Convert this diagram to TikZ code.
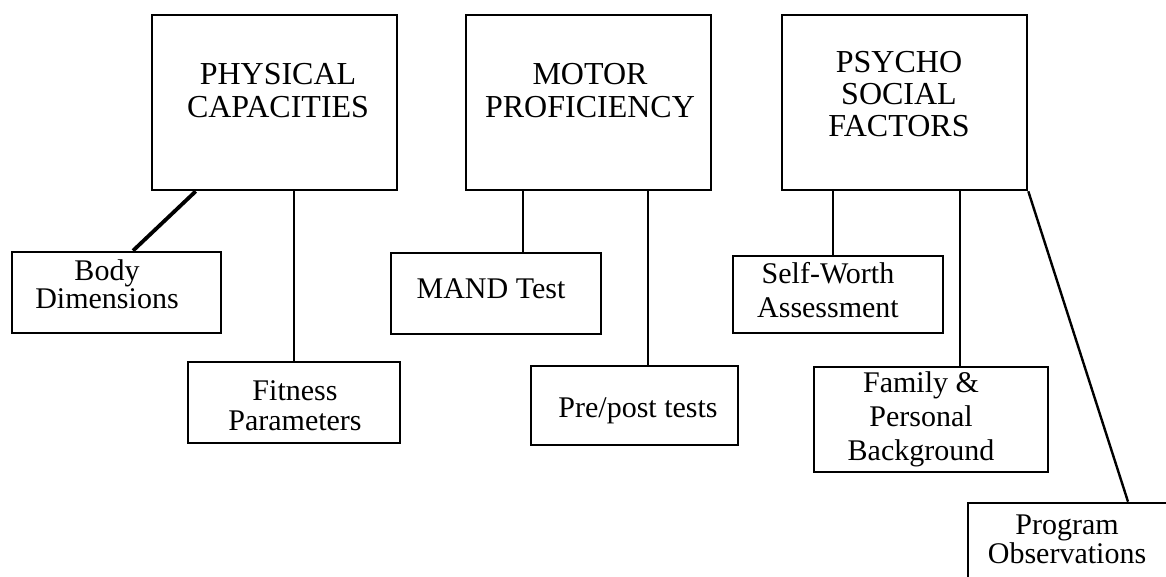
\documentclass[tikz,border=0pt]{standalone}
\usepackage{fontspec}
\setmainfont{Liberation Serif}
\begin{document}
\begin{tikzpicture}[
	x=1pt, y=-1pt,
	bigbox/.style={ rectangle, draw, line width=2.6pt, inner sep=0pt, minimum width=245pt, minimum height=175pt },
	smallbox/.style={ rectangle, draw, line width=2.6pt, inner sep=0pt },
	bigtext/.style={ anchor=base, align=center, inner sep=0pt, font=\fontsize{32}{33}\selectfont },
	smalltext/.style={ anchor=base, align=center, inner sep=0pt, font=\fontsize{30}{30}\selectfont },
	link/.style={ line width=2.4pt }
]
\useasboundingbox (0,0) rectangle (1166,576);
\clip (0,0) rectangle (1166,576);

% top boxes
\node[bigbox] at (274.5,102.5) (phys) {};
\node[bigbox] at (588.5,102.5) (motor) {};
\node[bigbox] at (904.5,102.5) (psycho) {};
\node[bigtext] at (278,117) (physT) {PHYSICAL\\CAPACITIES};
\node[bigtext] at (590,117) (motorT) {MOTOR\\PROFICIENCY};
\node[bigtext, font=\fontsize{32}{32}\selectfont] at (899,136) (psychoT) {PSYCHO\\SOCIAL\\FACTORS};

% lower boxes
\node[smallbox, minimum width=209pt, minimum height=81pt] at (116.5,292.5) (body) {};
\node[smallbox, minimum width=212pt, minimum height=81pt] at (294,402.5) (fit) {};
\node[smallbox, minimum width=210pt, minimum height=81pt] at (496,293.5) (mand) {};
\node[smallbox, minimum width=207pt, minimum height=79pt] at (634.5,405.5) (pre) {};
\node[smallbox, minimum width=210pt, minimum height=77pt] at (838,294.5) (self) {};
\node[smallbox, minimum width=234pt, minimum height=105pt] at (931,419.5) (fam) {};
\node[smallbox, minimum width=212pt, minimum height=86pt] at (1074,546) (prog) {};

\node[smalltext, font=\fontsize{30}{23}\selectfont] at (107,308) (bodyT) {Body\\Dimensions};
\node[smalltext] at (295,430) (fitT) {Fitness\\Parameters};
\node[smalltext] at (491,298) (mandT) {MAND Test};
\node[smalltext] at (638,417) (preT) {Pre/post tests};
\node[smalltext, font=\fontsize{30}{34}\selectfont] at (828,317) (selfT) {Self-Worth\\Assessment};
\node[smalltext, font=\fontsize{30}{34}\selectfont] at (921,460) (famT) {Family \&\\Personal\\Background};
\node[smalltext, font=\fontsize{30}{26}\selectfont] at (1067,563) (progT) {Program\\Observations};

% connectors
\draw[line width=3.8pt] ([xshift=45pt]phys.south west) to ([xshift=16.5pt]body.north);
\draw[link] (fit.north |- phys.south) to (fit.north);
\draw[link] ([xshift=27pt]mand.north |- motor.south) to ([xshift=27pt]mand.north);
\draw[link] ([xshift=13.5pt]pre.north |- motor.south) to ([xshift=13.5pt]pre.north);
\draw[link] ([xshift=-5pt]self.north |- psycho.south) to ([xshift=-5pt]self.north);
\draw[link] ([xshift=29pt]fam.north |- psycho.south) to ([xshift=29pt]fam.north);
\draw[link] (psycho.south east) to ([xshift=54pt]prog.north);

\end{tikzpicture}
\end{document}
